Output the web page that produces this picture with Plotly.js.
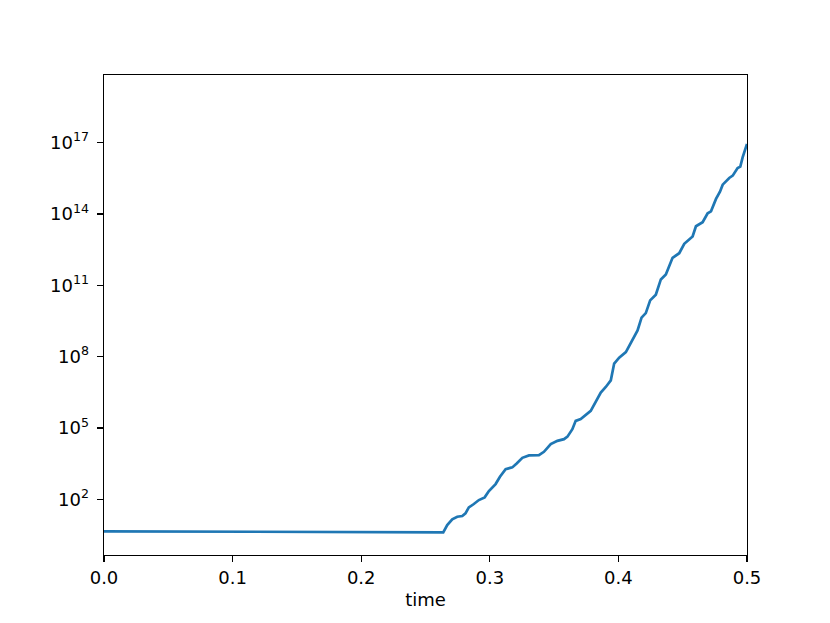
<!DOCTYPE html>
<html>
<head>
<meta charset="utf-8">
<script src="https://cdn.plot.ly/plotly-3.0.1.min.js"></script>
<style>html,body{margin:0;padding:0;background:#fff;}#chart{width:830px;height:623px;}</style>
</head>
<body>
<div id="chart"></div>
<script>
const time = [0, 0.1, 0.2, 0.2638, 0.2669, 0.2708, 0.2747, 0.2786, 0.2811, 0.2837, 0.2876, 0.2915, 0.2960, 0.2993,
  0.3045, 0.3079, 0.3123, 0.3175, 0.3209, 0.3253, 0.3305, 0.3382, 0.3421, 0.3474, 0.3526, 0.3577, 0.3604,
  0.3642, 0.3668, 0.3707, 0.3785, 0.3824, 0.3863, 0.3902, 0.3941, 0.3967, 0.4006, 0.4058, 0.4097, 0.4149,
  0.4180, 0.4213, 0.4247, 0.4291, 0.4330, 0.4369, 0.4421, 0.4473, 0.4512, 0.4577, 0.4603, 0.4655, 0.4694,
  0.4720, 0.4759, 0.4790, 0.4811, 0.4862, 0.4889, 0.4927, 0.4948, 0.4966, 0.5000];
const value = [4.54, 4.42, 4.25, 4.12, 8.35, 14.5, 18.6, 19.9, 25.8, 46.1, 63.5, 93.5, 121, 223,
  439, 887, 1866, 2203, 3243, 5570, 7020, 7230, 9940, 20900, 28800, 33900, 43200,
  89100, 1.99e5, 2.39e5, 5.22e5, 1.25e6, 3.09e6, 5.31e6, 1.01e7, 5.09e7, 9.1e7, 1.56e8, 3.73e8, 1.27e9,
  4.34e9, 6.76e9, 2.31e10, 4.01e10, 1.76e11, 2.85e11, 1.43e12, 2.23e12, 5.53e12, 1.12e13, 3.03e13, 4.46e13, 1.06e14,
  1.29e14, 4.28e14, 8.65e14, 1.70e15, 3.25e15, 4.06e15, 8.55e15, 9.7e15, 2.38e16, 8.7e16];
const yTickVals = [1e2, 1e5, 1e8, 1e11, 1e14, 1e17];
const yTickText = ['10<sup>2</sup>', '10<sup>5</sup>', '10<sup>8</sup>', '10<sup>11</sup>', '10<sup>14</sup>', '10<sup>17</sup>'];
const xTickVals = [0, 0.1, 0.2, 0.3, 0.4, 0.5];
const xTickText = ['0.0', '0.1', '0.2', '0.3', '0.4', '0.5'];

const trace = {
  x: time, y: value, type: 'scatter', mode: 'lines',
  line: {color: '#1f77b4', width: 2.7}, hoverinfo: 'skip'
};
const layout = {
  width: 830, height: 623,
  margin: {l: 104, r: 83, t: 75, b: 68, pad: 0},
  paper_bgcolor: '#fff', plot_bgcolor: '#fff',
  font: {family: 'DejaVu Sans', size: 18, color: '#000'},
  showlegend: false,
  xaxis: {
    range: [0, 0.5], tickvals: xTickVals, ticktext: xTickText,
    showgrid: false, zeroline: false, showline: true, mirror: true,
    linecolor: '#000', linewidth: 1.4, ticks: 'outside', ticklen: 6, tickwidth: 1.4, tickcolor: '#000',
    tickfont: {size: 18},
    title: {text: 'time', font: {size: 18}, standoff: 6}
  },
  yaxis: {
    type: 'log', range: [-0.34, 19.84], tickvals: yTickVals, ticktext: yTickText,
    showgrid: false, zeroline: false, showline: true, mirror: true,
    linecolor: '#000', linewidth: 1.4, ticks: 'outside', ticklen: 6, tickwidth: 1.4, tickcolor: '#000',
    tickfont: {size: 18}, ticklabelstandoff: 4
  }
};
Plotly.newPlot('chart', [trace], layout, {staticPlot: true, displayModeBar: false});
</script>
</body>
</html>
